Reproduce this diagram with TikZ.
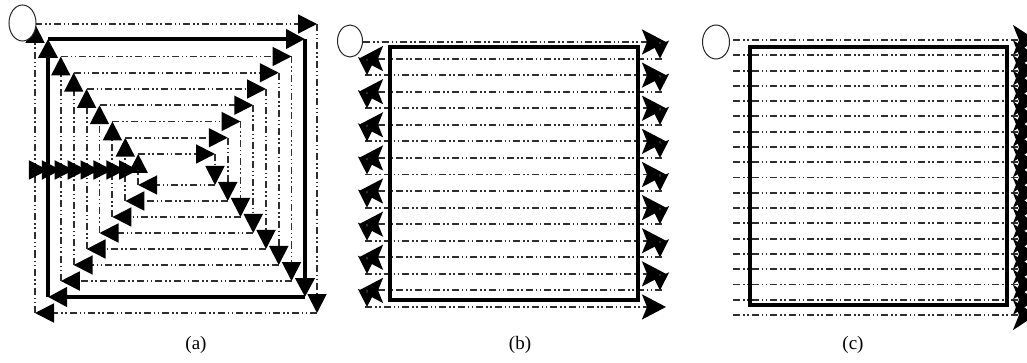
\documentclass[tikz,border=0pt]{standalone}
\usepackage{fontspec}
\setmainfont{Liberation Serif}
\usetikzlibrary{arrows.meta,shapes.geometric}
\begin{document}
\begin{tikzpicture}[x=1pt,y=-1pt,
  dd/.style={line width=1.9pt, draw=black!82, dash pattern=on 7pt off 3pt on 1.5pt off 2.5pt on 1.5pt off 3pt},
  thk/.style={line width=4.2pt, draw=black},
  ta/.style={-{Triangle[length=19pt,width=19pt,color=black]}},
  sa/.style={-{Stealth[length=24pt,width=25pt,inset=5pt,color=black]}},
  sb/.style={-{Stealth[length=18pt,width=18pt,inset=4pt,color=black]}},
  sc/.style={-{Stealth[length=23pt,width=30pt,inset=6pt,color=black]}},
  startc/.style={draw=black!85, line width=1pt, ellipse, inner sep=0pt, fill=white},
  lab/.style={font=\fontsize{19}{22}\selectfont, inner sep=0pt}
]
\useasboundingbox (0,0) rectangle (1027,363);
\clip (0,0) rectangle (1027,363);

% ---------- (a) ----------
\newcommand\aloop[5]{%
  \draw[#5,ta] (#1,170) -- (#1,#2);
  \draw[#5,ta] (#1,#2) -- (#3,#2);
  \draw[#5,ta] (#3,#2) -- (#3,#4);
  \draw[#5,ta] (#3,#4) -- (#1,#4);
  \draw[#5] (#1,#4) -- (#1,170);
}
\aloop{35}{24}{317}{313}{dd}
\aloop{48}{39}{305}{297}{thk}
\foreach \k in {2,...,8}{
  \aloop{35+12.9*\k}{24+16.25*\k}{317-12.75*\k}{313-16*\k}{dd}
}
\foreach \k in {0,...,7}{
  \draw[dd,ta] (35+12.9*\k,170) -- (35+12.9*\k+12.9,170);
}
\node[startc, minimum width=27pt, minimum height=36pt] (sa0) at (22.5,23) {};

% ---------- (b) ----------
\foreach \i in {0,2,...,16}{
  \ifnum\i=0
    \draw[dd,sa] (363,42) -- (666,42);
  \else
    \draw[dd,sa] (365,42+16.56*\i) -- (666,42+16.56*\i);
  \fi
  \ifnum\i<16
    \draw[dd,sb] (660,42+16.56*\i) -- (660,42+16.56*\i+16.56);
  \fi
}
\foreach \i in {1,3,...,15}{
  \draw[dd,sa] (662,42+16.56*\i) -- (359,42+16.56*\i);
  \draw[dd,sb] (367,42+16.56*\i) -- (367,42+16.56*\i+16.56);
}
\draw[thk] (390,47) rectangle (638,300);
\node[startc, minimum width=25pt, minimum height=32pt] (sb0) at (350,41) {};

% ---------- (c) ----------
\foreach \j in {0,...,18}{
  \draw[dd,sc] (733,40+15.28*\j) -- (1036,40+15.28*\j);
}
\draw[thk] (750,47) rectangle (1007,305);
\node[startc, minimum width=27pt, minimum height=34pt] (sc0) at (716,42) {};

% ---------- labels ----------
\node[lab] (la) at (196,345) {(a)};
\node[lab] (lb) at (520,345) {(b)};
\node[lab] (lc) at (853,345) {(c)};
\end{tikzpicture}
\end{document}
